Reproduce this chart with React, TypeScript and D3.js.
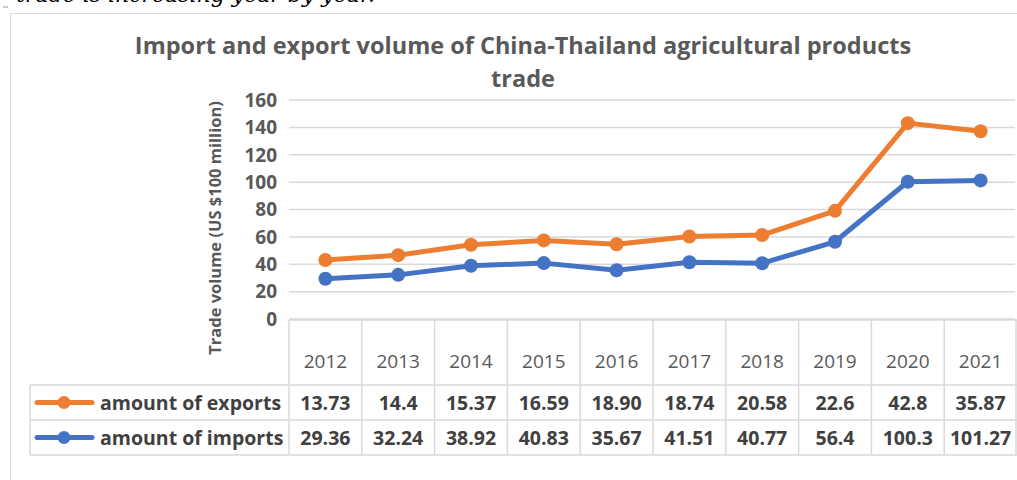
import React from 'react';
import * as d3 from 'd3';

const years = ['2012', '2013', '2014', '2015', '2016', '2017', '2018', '2019', '2020', '2021'];
const exportsLabels = ['13.73', '14.4', '15.37', '16.59', '18.90', '18.74', '20.58', '22.6', '42.8', '35.87'];
const importsLabels = ['29.36', '32.24', '38.92', '40.83', '35.67', '41.51', '40.77', '56.4', '100.3', '101.27'];
const exportsValues = exportsLabels.map(Number);
const importsValues = importsLabels.map(Number);
const yTicks = [0, 20, 40, 60, 80, 100, 120, 140, 160];

const ORANGE = '#ED7D31';
const BLUE = '#4472C4';
const GRID = '#d9d9d9';
const TEXT = '#595959';
const FONT = '"Open Sans", "Noto Sans", sans-serif';

const App: React.FC = () => {
  const width = 1017;
  const height = 480;

  const x = d3.scaleBand<string>().domain(years).range([289, 1017]);
  const y = d3.scaleLinear().domain([0, 160]).range([319, 100]);

  // Excel stacked line: the exports line sits on top of imports
  const rows = years.map((yr, i) => ({ year: yr, imports: importsValues[i], exports: exportsValues[i] }));
  const stacked = d3.stack<any>().keys(['imports', 'exports'])(rows);

  const cx = (yr: string) => (x(yr) as number) + x.bandwidth() / 2;
  const line = d3
    .line<any>()
    .x(d => cx(d.data.year))
    .y(d => y(d[1]));

  const series = [
    { key: 'imports', color: BLUE, data: stacked[0] },
    { key: 'exports', color: ORANGE, data: stacked[1] },
  ];

  const tableRows = [
    { label: 'amount of exports', color: ORANGE, values: exportsLabels, top: 385 },
    { label: 'amount of imports', color: BLUE, values: importsLabels, top: 420 },
  ];
  const rowH = 35;

  return (
    <svg
      width={width}
      height={height}
      style={{ position: 'absolute', left: 0, top: 0, background: '#fff' }}
      fontFamily={FONT}
    >
      {/* cut-off sentence above the chart */}
      <text x={375} y={2} textAnchor="end" fontFamily="'DejaVu Serif', serif" fontStyle="italic" fontSize={22} fill="#000">
        trade is increasing year by year.
      </text>
      <path d="M3,7 H8" stroke="#999" />

      {/* chart frame */}
      <rect x={10.5} y={13.5} width={1020} height={480} fill="none" stroke={GRID} />

      {/* title */}
      <text x={523} y={54} textAnchor="middle" fontWeight="bold" fontSize={23.5} fill={TEXT}>
        Import and export volume of China-Thailand agricultural products
      </text>
      <text x={523} y={87} textAnchor="middle" fontWeight="bold" fontSize={23.5} fill={TEXT}>
        trade
      </text>

      {/* gridlines */}
      {yTicks.map(t => (
        <line key={t} x1={289} x2={1015} y1={y(t)} y2={y(t)} stroke={GRID} strokeWidth={1.5} />
      ))}

      {/* y tick labels */}
      {yTicks.map(t => (
        <text key={t} x={277} y={y(t)} dy="0.36em" textAnchor="end" fontWeight="bold" fontSize={19} fill={TEXT}>
          {t}
        </text>
      ))}

      {/* y axis title */}
      <text
        transform="translate(221,228) rotate(-90)"
        textAnchor="middle"
        fontWeight="bold"
        fontSize={16.5}
        fill={TEXT}
      >
        Trade volume (US $100 million)
      </text>

      {/* lines */}
      {series.map(s => (
        <g key={s.key}>
          <path d={line(s.data as any) || ''} fill="none" stroke={s.color} strokeWidth={5} strokeLinejoin="round" />
          {s.data.map((d: any) => (
            <circle key={d.data.year} cx={cx(d.data.year)} cy={y(d[1])} r={7} fill={s.color} />
          ))}
        </g>
      ))}

      {/* data table: header */}
      <line x1={289} x2={1017} y1={320} y2={320} stroke={GRID} strokeWidth={1.5} />
      {years.map(yr => (
        <g key={yr}>
          <line x1={x(yr) as number} x2={x(yr) as number} y1={320} y2={455} stroke={GRID} strokeWidth={1.5} />
          <text x={cx(yr)} y={368} textAnchor="middle" fontSize={19} fill={TEXT}>
            {yr}
          </text>
        </g>
      ))}
      <line x1={1016} x2={1016} y1={320} y2={455} stroke={GRID} strokeWidth={1.5} />

      {/* data table: rows */}
      <line x1={30} x2={30} y1={385} y2={455} stroke={GRID} strokeWidth={1.5} />
      {[385, 420, 455].map(v => (
        <line key={v} x1={30} x2={1017} y1={v} y2={v} stroke={GRID} strokeWidth={1.5} />
      ))}
      {tableRows.map(r => (
        <g key={r.label}>
          <line x1={37} x2={92} y1={r.top + rowH / 2} y2={r.top + rowH / 2} stroke={r.color} strokeWidth={5} strokeLinecap="round" />
          <circle cx={64} cy={r.top + rowH / 2} r={6.5} fill={r.color} />
          <text x={100} y={r.top + rowH / 2} dy="0.36em" fontWeight="bold" fontSize={19.5} fill="#404040">
            {r.label}
          </text>
          {r.values.map((v, i) => (
            <text
              key={i}
              x={cx(years[i])}
              y={r.top + rowH / 2}
              dy="0.36em"
              textAnchor="middle"
              fontWeight="bold"
              fontSize={19.5}
              fill="#404040"
            >
              {v}
            </text>
          ))}
        </g>
      ))}
    </svg>
  );
};

export default App;
